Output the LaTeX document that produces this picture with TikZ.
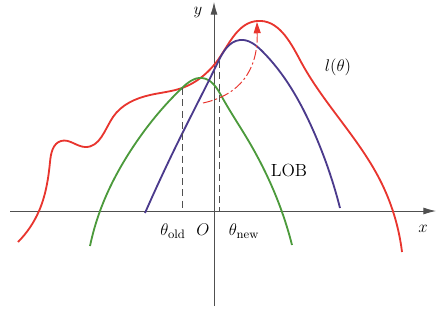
\documentclass[tikz,border=0pt]{standalone}
\usepackage{amsmath,amssymb}
\usetikzlibrary{arrows.meta,hobby}
\definecolor{lred}{HTML}{E8352E}
\definecolor{lobpurple}{HTML}{4B3A8C}
\definecolor{lobgreen}{HTML}{4C9A3C}
\definecolor{axisgray}{HTML}{505050}

\begin{document}
\begin{tikzpicture}[x=0.025cm, y=-0.025cm, every node/.style={font=\fontsize{12.5}{15}\selectfont},
  curve/.style={line width=1.3pt, use Hobby shortcut},
  guide/.style={axisgray, line width=0.6pt, dash pattern=on 5pt off 3pt}]
 \useasboundingbox (0,0) rectangle (438,322);
 % axes
 \coordinate (xs) at (10,211); \coordinate (xe) at (436,211);
 \coordinate (ys) at (214,306); \coordinate (ye) at (214,2);
 \draw[axisgray, line width=0.6pt, -{Latex[length=9pt,width=5pt]}] (xs) -- (xe);
 \draw[axisgray, line width=0.6pt, -{Latex[length=9pt,width=5pt]}] (ys) -- (ye);
 \node (xlab) at (423,229) {$x$};
 \node (ylab) at (198,13) {$y$};
 \node (O) at (203,230) {$O$};
 \node (told) at (173,231) {$\theta_{\text{old}}$};
 \node (tnew) at (244,231) {$\theta_{\text{new}}$};
 % l(theta) and the two lower bounds
 \draw[lred, curve] (18,242) .. (39,211) .. (50,162) .. (61,141) .. (85,147) .. (113,117)
   .. (150,95) .. (182,88) .. (220,57) .. (257,21) .. (300,60) .. (380,180) .. (402,252);
 \draw[lobgreen, curve] (90,246) .. (100,211) .. (133,147) .. (182,88) .. (202,78)
   .. (222,97) .. (248,140) .. (282,212) .. (292,245);
 \draw[lobpurple, curve] (145,213) .. (180,138) .. (218,62) .. (240,40) .. (262,51)
   .. (313,130) .. (340,208);
 \node (ltheta) at (338,67) {$l(\theta)$};
 \node (lob) at (289,170) {LOB};
 % touching points
 \coordinate (pold) at (182,88); \coordinate (bold) at (182,211);
 \coordinate (pnew) at (219,61); \coordinate (bnew) at (219,211);
 \draw[guide] (pold) -- (bold);
 \draw[guide] (pnew) -- (bnew);
 % step to the maximum
 \coordinate (s0) at (203,103); \coordinate (s1) at (257,22);
 \draw[lred, line width=0.7pt, dash pattern=on 7pt off 2pt on 1.5pt off 2pt,
   -{Triangle[length=8pt,width=5pt]}] (s0) .. controls (240,95) and (258,70) .. (s1);
\end{tikzpicture}
\end{document}
